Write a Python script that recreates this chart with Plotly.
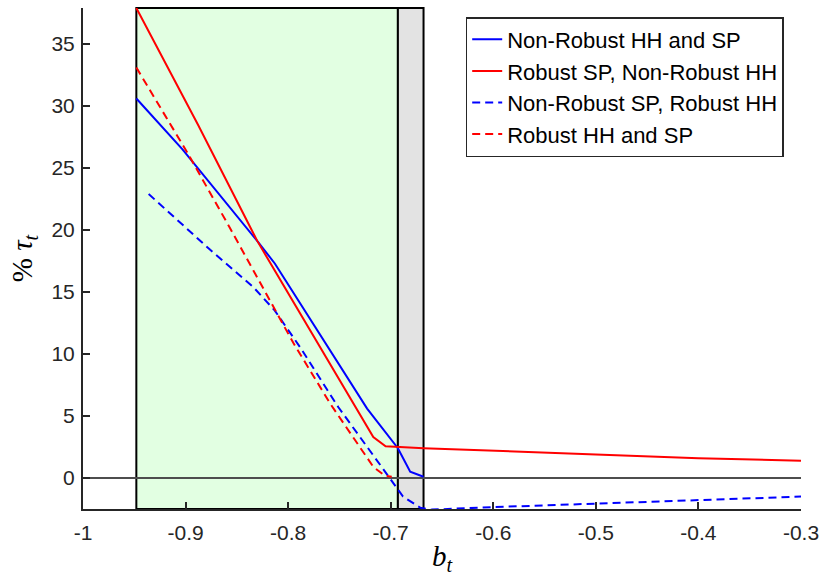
import plotly.graph_objects as go

# Data
b_nr_both = [-0.948, -0.903, -0.830, -0.813, -0.723, -0.693, -0.681, -0.668]
tau_nr_both = [30.6, 26.5, 19.1, 17.3, 5.6, 2.4, 0.5, 0.1]

b_rsp = [-0.948, -0.888, -0.830, -0.733, -0.717, -0.705, -0.668, -0.5, -0.4, -0.3]
tau_rsp = [37.9, 28.5, 19.1, 5.6, 3.3, 2.55, 2.4, 1.9, 1.6, 1.4]

b_nrsp = [-0.936, -0.876, -0.834, -0.813, -0.788, -0.751, -0.708, -0.688, -0.671, -0.66, -0.6, -0.5, -0.4, -0.3]
tau_nrsp = [22.9, 18.4, 15.4, 13.5, 10.5, 5.7, 0.8, -1.5, -2.4, -2.55, -2.35, -2.05, -1.75, -1.5]

b_rob = [-0.948, -0.898, -0.857, -0.827, -0.795, -0.759, -0.717, -0.706, -0.699]
tau_rob = [33.1, 26.2, 20.2, 15.7, 10.9, 6.0, 0.9, 0.2, 0.1]

names = ["Non-Robust HH and SP", "Robust SP, Non-Robust HH",
         "Non-Robust SP, Robust HH", "Robust HH and SP"]

x_ticks = [-1, -0.9, -0.8, -0.7, -0.6, -0.5, -0.4, -0.3]
x_tick_text = ["-1", "-0.9", "-0.8", "-0.7", "-0.6", "-0.5", "-0.4", "-0.3"]
y_ticks = [0, 5, 10, 15, 20, 25, 30, 35]

x_range = [-1, -0.3]
y_range = [-2.5, 37.9]
green_region = [-0.948, -0.693]
gray_region = [-0.693, -0.668]

fig = go.Figure()

# zero line
fig.add_trace(go.Scatter(x=x_range, y=[0, 0], mode="lines",
                         line=dict(color="#4d4d4d", width=2),
                         showlegend=False, hoverinfo="skip"))

fig.add_trace(go.Scatter(x=b_nr_both, y=tau_nr_both, mode="lines", name=names[0],
                         line=dict(color="#0000ff", width=2)))
fig.add_trace(go.Scatter(x=b_rsp, y=tau_rsp, mode="lines", name=names[1],
                         line=dict(color="#ff0000", width=2)))
fig.add_trace(go.Scatter(x=b_nrsp, y=tau_nrsp, mode="lines", name=names[2],
                         line=dict(color="#0000ff", width=2, dash="8px,5px")))
fig.add_trace(go.Scatter(x=b_rob, y=tau_rob, mode="lines", name=names[3],
                         line=dict(color="#ff0000", width=2, dash="8px,5px")))

fig.add_shape(type="rect", xref="x", yref="y domain",
              x0=green_region[0], x1=green_region[1], y0=0, y1=1,
              fillcolor="#e2ffe2", line=dict(color="black", width=2), layer="below")
fig.add_shape(type="rect", xref="x", yref="y domain",
              x0=gray_region[0], x1=gray_region[1], y0=0, y1=1,
              fillcolor="#e3e3e3", line=dict(color="black", width=2), layer="below")

axis_color = "#262626"
tick_font = dict(family="Liberation Sans, Arial", size=21, color=axis_color)
title_font = dict(family="Liberation Serif, serif", size=29, color="black")

fig.update_xaxes(range=x_range, tickvals=x_ticks, ticktext=x_tick_text, automargin=False,
                 showgrid=False, zeroline=False, showline=True, linecolor=axis_color,
                 linewidth=2, ticks="inside", ticklen=7, tickwidth=2, tickcolor=axis_color,
                 tickfont=tick_font, ticklabelstandoff=4,
                 title=dict(text="<i>b<sub>t</sub></i>", standoff=2, font=title_font))
fig.update_yaxes(range=y_range, tickvals=y_ticks, automargin=False,
                 showgrid=False, zeroline=False, showline=True, linecolor=axis_color,
                 linewidth=2, ticks="inside", ticklen=7, tickwidth=2, tickcolor=axis_color,
                 tickfont=tick_font, ticklabelstandoff=2,
                 title=dict(text="% <i>τ<sub>t</sub></i>", standoff=10, font=title_font))

fig.update_layout(
    width=822, height=576,
    margin=dict(l=83, r=21, t=8, b=67, autoexpand=False),
    plot_bgcolor="white", paper_bgcolor="white",
    legend=dict(x=0.533, y=0.982, xanchor="left", yanchor="top",
                bgcolor="white", bordercolor="#262626", borderwidth=1.5,
                font=dict(family="Liberation Sans, Arial", size=22, color="black"),
                tracegroupgap=0, itemwidth=30),
)

fig.write_html("out.html")
